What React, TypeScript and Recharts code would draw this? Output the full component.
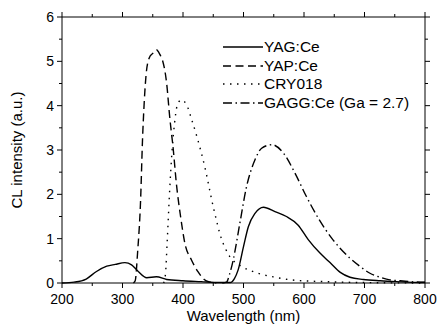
import { LineChart, Line, XAxis, YAxis, Legend } from 'recharts';

// wavelength (nm) / CL intensity (a.u.)
const yagX = [200, 220, 240, 257, 274, 288, 304, 315, 326, 340, 356, 373, 400, 430, 460, 478, 485, 491, 500, 508, 519, 533, 552, 571, 590, 607, 626, 643, 660, 676, 698, 726, 753, 792, 800];
const yagY = [0, 0.02, 0.09, 0.26, 0.38, 0.42, 0.46, 0.41, 0.26, 0.12, 0.14, 0.08, 0.05, 0.03, 0.01, 0.01, 0.1, 0.29, 0.82, 1.27, 1.57, 1.71, 1.61, 1.5, 1.31, 0.98, 0.68, 0.46, 0.24, 0.13, 0.08, 0.05, 0.03, 0.01, 0.01];

const yapX = [318, 321, 325, 330, 333, 336, 339, 344, 350, 356, 362, 366, 373, 378, 384, 389, 396, 403, 414, 425, 435, 445, 455];
const yapY = [0, 0.05, 0.7, 1.9, 3.2, 4.1, 4.7, 5.07, 5.18, 5.26, 5.15, 5.03, 4.5, 3.75, 3.0, 2.25, 1.5, 0.9, 0.52, 0.25, 0.08, 0.02, 0];

const cryX = [368, 371, 374, 378, 382, 386, 390, 397, 406, 414, 423, 436, 450, 464, 470, 477, 487, 497, 524, 552, 579, 635, 700, 800];
const cryY = [0, 0.2, 0.97, 2.1, 3.0, 3.6, 3.98, 4.13, 4.02, 3.7, 3.3, 2.62, 1.72, 0.98, 0.78, 0.6, 0.46, 0.37, 0.22, 0.13, 0.07, 0.03, 0.01, 0];

const gaggX = [465, 472, 477, 483, 494, 505, 519, 530, 547, 566, 585, 604, 625, 647, 660, 676, 693, 709, 726, 742, 759, 792, 800];
const gaggY = [0, 0.02, 0.2, 0.52, 1.35, 2.17, 2.78, 3.04, 3.12, 2.93, 2.48, 1.95, 1.43, 0.99, 0.78, 0.56, 0.37, 0.22, 0.13, 0.07, 0.05, 0.02, 0.02];

const xTicks = [200, 250, 300, 350, 400, 450, 500, 550, 600, 650, 700, 750, 800];
const yTicks = [0, 0.5, 1, 1.5, 2, 2.5, 3, 3.5, 4, 4.5, 5, 5.5, 6];

const toPoints = (xs: number[], ys: number[]) => xs.map((x, i) => ({ x, y: ys[i] }));

const series = [
  { name: 'YAG:Ce', data: toPoints(yagX, yagY), dash: undefined },
  { name: 'YAP:Ce', data: toPoints(yapX, yapY), dash: '8 4.5' },
  { name: 'CRY018', data: toPoints(cryX, cryY), dash: '1.5 5.5' },
  { name: 'GAGG:Ce (Ga = 2.7)', data: toPoints(gaggX, gaggY), dash: '9 3.5 1.5 3.5' },
];

const FONT = '"Liberation Sans", Arial, sans-serif';

// ticks point outward, majors get a label (only on bottom/left)
const makeTick = (side: 'bottom' | 'top' | 'left' | 'right', step: number, labels: boolean) => (props: any) => {
  const { x, y, payload } = props;
  const v = payload.value;
  const major = Math.abs(v / step - Math.round(v / step)) < 1e-6;
  const len = major ? 5 : 3;
  let x2 = x, y2 = y;
  if (side === 'bottom') y2 = y + len;
  if (side === 'top') y2 = y - len;
  if (side === 'left') x2 = x - len;
  if (side === 'right') x2 = x + len;
  return (
    <g>
      <line x1={x} y1={y} x2={x2} y2={y2} stroke="#000" strokeWidth={1} />
      {labels && major && side === 'bottom' && (
        <text x={x} y={y + 21} textAnchor="middle" fontSize={14} fontFamily={FONT} fill="#000">{v}</text>
      )}
      {labels && major && side === 'left' && (
        <text x={x - 8} y={y + 5} textAnchor="end" fontSize={14} fontFamily={FONT} fill="#000">{v}</text>
      )}
    </g>
  );
};

const renderLegend = () => (
  <div style={{ fontFamily: FONT, fontSize: 15.5, color: '#000' }}>
    {series.map((s) => (
      <div key={s.name} style={{ display: 'flex', alignItems: 'center', height: 18.6, whiteSpace: 'nowrap' }}>
        <svg width={42} height={18}>
          <line x1={1} y1={9} x2={41} y2={9} stroke="#000" strokeWidth={1.4} strokeDasharray={s.dash} />
        </svg>
        <span>{s.name}</span>
      </div>
    ))}
  </div>
);

export default function App() {
  return (
    <div style={{ position: 'fixed', left: 0, top: 0, width: 444, height: 333, background: '#fff' }}>
      <LineChart width={444} height={333} margin={{ top: 16, right: 18, bottom: 0, left: 0 }}>
        <XAxis
          xAxisId="b"
          type="number"
          dataKey="x"
          domain={[200, 800]}
          ticks={xTicks}
          interval={0}
          height={50}
          tickSize={0}
          tickMargin={0}
          tickLine={false}
          axisLine={{ stroke: '#000' }}
          tick={makeTick('bottom', 100, true)}
          label={{
            content: (p: any) => {
              const vb = p.viewBox;
              return (
                <text x={vb.x + vb.width / 2} y={vb.y + 38} textAnchor="middle" fontSize={15} fontFamily={FONT} fill="#000">
                  Wavelength (nm)
                </text>
              );
            },
          }}
        />
        <XAxis
          xAxisId="t"
          orientation="top"
          type="number"
          dataKey="x"
          domain={[200, 800]}
          ticks={xTicks}
          interval={0}
          height={1}
          tickSize={0}
          tickMargin={0}
          tickLine={false}
          axisLine={{ stroke: '#000' }}
          tick={makeTick('top', 100, false)}
        />
        <YAxis
          yAxisId="l"
          type="number"
          domain={[0, 6]}
          ticks={yTicks}
          interval={0}
          width={62}
          tickSize={0}
          tickMargin={0}
          tickLine={false}
          axisLine={{ stroke: '#000' }}
          tick={makeTick('left', 1, true)}
          label={{
            content: (p: any) => {
              const vb = p.viewBox;
              const cx = vb.x + 22;
              const cy = vb.y + vb.height / 2;
              return (
                <text x={cx} y={cy} transform={`rotate(-90, ${cx}, ${cy})`} textAnchor="middle" fontSize={15} fontFamily={FONT} fill="#000">
                  CL intensity (a.u.)
                </text>
              );
            },
          }}
        />
        <YAxis
          yAxisId="r"
          orientation="right"
          type="number"
          domain={[0, 6]}
          ticks={yTicks}
          interval={0}
          width={1}
          tickSize={0}
          tickMargin={0}
          tickLine={false}
          axisLine={{ stroke: '#000' }}
          tick={makeTick('right', 1, false)}
        />
        <Legend
          layout="vertical"
          align="center"
          verticalAlign="middle"
          content={renderLegend}
          wrapperStyle={{ left: 222, top: 38, width: 200 }}
        />
        {series.map((s) => (
          <Line
            key={s.name}
            xAxisId="b"
            yAxisId="l"
            data={s.data}
            dataKey="y"
            name={s.name}
            type="monotone"
            stroke="#000"
            strokeWidth={1.4}
            strokeDasharray={s.dash}
            dot={false}
            activeDot={false}
            isAnimationActive={false}
          />
        ))}
        {/* invisible copy so the mirrored top/right frame axes get drawn */}
        <Line
          xAxisId="t"
          yAxisId="r"
          data={series[0].data}
          dataKey="y"
          legendType="none"
          stroke="none"
          dot={false}
          activeDot={false}
          isAnimationActive={false}
        />
      </LineChart>
    </div>
  );
}
